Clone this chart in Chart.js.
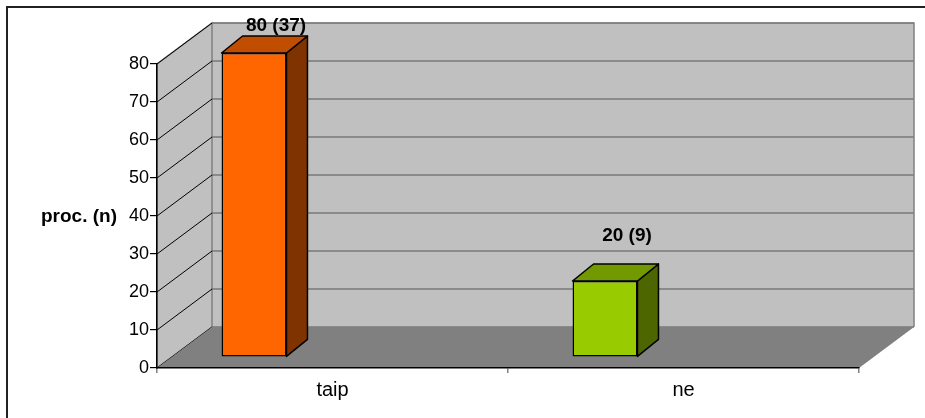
<!DOCTYPE html>
<html>
<head>
<meta charset="utf-8">
<title>proc. (n)</title>
<script src="https://cdn.jsdelivr.net/npm/chart.js@4.4.1/dist/chart.umd.min.js"></script>
<style>
    html, body { margin: 0; padding: 0; background: #fff; }
    #wrap { position: relative; width: 925px; height: 418px; }
</style>
</head>
<body>
<div id="wrap"><canvas id="myChart" width="925" height="418"></canvas></div>
<script>
const categories = ['taip', 'ne'];
const percents = [80, 20];
const counts = [37, 9];
const yTicks = [0, 10, 20, 30, 40, 50, 60, 70, 80];
const yTitle = 'proc. (n)';

// colours of the boxes: front, top and side faces
const frontColors = ['#ff6600', '#99cc00'];
const topColors = ['#c04d00', '#739900'];
const sideColors = ['#7f3300', '#4d6600'];

const FONT = "'Liberation Sans', Arial, sans-serif";

// depth of the walls / floor and of each box
const WALL_DX = 55, WALL_DY = -41;
const BOX_DX = 21, BOX_DY = -17;
// where the box front faces sit inside the floor
const BOX_SHIFT_X = -78.5, BOX_SHIFT_Y = -11;

const box3d = {
    id: 'box3d',
    beforeDraw(chart) {
        const ctx = chart.ctx;
        const a = chart.chartArea;
        const ys = chart.scales.y;
        ctx.save();
        ctx.fillStyle = '#fff';
        ctx.fillRect(0, 0, chart.width, chart.height);

        // frame
        ctx.fillStyle = '#222';
        ctx.fillRect(6, 6, chart.width, 2);
        ctx.fillRect(6, 6, 2, chart.height);

        // back wall
        ctx.fillStyle = '#c0c0c0';
        ctx.fillRect(a.left + WALL_DX, a.top + WALL_DY, a.right - a.left, a.bottom - a.top);
        // left wall
        ctx.beginPath();
        ctx.moveTo(a.left, a.bottom);
        ctx.lineTo(a.left, a.top);
        ctx.lineTo(a.left + WALL_DX, a.top + WALL_DY);
        ctx.lineTo(a.left + WALL_DX, a.bottom + WALL_DY);
        ctx.closePath();
        ctx.fill();
        ctx.strokeStyle = '#808080';
        ctx.lineWidth = 1.5;
        ctx.stroke();

        // grid on the back wall and on the left wall
        yTicks.forEach(v => {
            const py = ys.getPixelForValue(v);
            ctx.strokeStyle = '#555';
            ctx.lineWidth = 1.2;
            ctx.beginPath();
            ctx.moveTo(a.left + WALL_DX, py + WALL_DY);
            ctx.lineTo(a.right + WALL_DX, py + WALL_DY);
            ctx.stroke();
            ctx.strokeStyle = '#000';
            ctx.lineWidth = 1;
            ctx.beginPath();
            ctx.moveTo(a.left, py);
            ctx.lineTo(a.left + WALL_DX, py + WALL_DY);
            ctx.stroke();
        });
        ctx.strokeStyle = '#808080';
        ctx.lineWidth = 1.5;
        ctx.beginPath();
        ctx.moveTo(a.left + WALL_DX, a.top + WALL_DY);
        ctx.lineTo(a.right + WALL_DX, a.top + WALL_DY);
        ctx.lineTo(a.right + WALL_DX, a.bottom + WALL_DY);
        ctx.stroke();

        // floor
        ctx.fillStyle = '#808080';
        ctx.beginPath();
        ctx.moveTo(a.left, a.bottom);
        ctx.lineTo(a.right, a.bottom);
        ctx.lineTo(a.right + WALL_DX, a.bottom + WALL_DY);
        ctx.lineTo(a.left + WALL_DX, a.bottom + WALL_DY);
        ctx.closePath();
        ctx.fill();

        // horizontal axis title
        ctx.fillStyle = '#000';
        ctx.font = 'bold 19px ' + FONT;
        ctx.textAlign = 'right';
        ctx.textBaseline = 'middle';
        ctx.fillText(yTitle, 117, ys.getPixelForValue(40) + 1);
        ctx.restore();
    },
    beforeDatasetsDraw(chart) {
        chart.ctx.save();
        chart.ctx.translate(BOX_SHIFT_X, BOX_SHIFT_Y);
    },
    afterDatasetsDraw(chart) {
        const ctx = chart.ctx;
        const meta = chart.getDatasetMeta(0);
        meta.data.forEach((bar, i) => {
            const p = bar.getProps(['x', 'y', 'base', 'width'], true);
            const l = p.x - p.width / 2, r = p.x + p.width / 2;
            ctx.lineWidth = 1.5;
            ctx.strokeStyle = '#000';
            ctx.lineJoin = 'round';
            // side face
            ctx.fillStyle = sideColors[i];
            ctx.beginPath();
            ctx.moveTo(r, p.y);
            ctx.lineTo(r + BOX_DX, p.y + BOX_DY);
            ctx.lineTo(r + BOX_DX, p.base + BOX_DY);
            ctx.lineTo(r, p.base);
            ctx.closePath();
            ctx.fill();
            ctx.stroke();
            // top face
            ctx.fillStyle = topColors[i];
            ctx.beginPath();
            ctx.moveTo(l, p.y);
            ctx.lineTo(l + BOX_DX, p.y + BOX_DY);
            ctx.lineTo(r + BOX_DX, p.y + BOX_DY);
            ctx.lineTo(r, p.y);
            ctx.closePath();
            ctx.fill();
            ctx.stroke();
        });
        ctx.restore();
    },
    afterDraw(chart) {
        const ctx = chart.ctx;
        const a = chart.chartArea;
        const meta = chart.getDatasetMeta(0);
        ctx.save();
        ctx.fillStyle = '#000';
        ctx.font = 'bold 19px ' + FONT;
        ctx.textAlign = 'center';
        ctx.textBaseline = 'middle';
        meta.data.forEach((bar, i) => {
            const x = bar.x + BOX_SHIFT_X + 22;
            const y = Math.max(bar.y + BOX_SHIFT_Y - 45, a.top + WALL_DY + 3);
            ctx.fillText(`${percents[i]} (${counts[i]})`, x, y);
        });
        ctx.restore();
    }
};

const ctx = document.getElementById('myChart');

new Chart(ctx, {
    type: 'bar',
    data: {
        labels: categories,
        datasets: [{
            data: percents,
            backgroundColor: frontColors,
            borderColor: '#000',
            borderWidth: 1.5,
            borderSkipped: false,
            barPercentage: 0.185,
            categoryPercentage: 1,
            clip: false
        }]
    },
    options: {
        responsive: false,
        animation: false,
        events: [],
        layout: { padding: { left: 0, top: 64, right: 66, bottom: 0 } },
        plugins: {
            legend: { display: false },
            tooltip: { enabled: false },
            title: { display: false }
        },
        scales: {
            x: {
                grid: { offset: true, drawOnChartArea: false, tickLength: 5, color: '#808080', lineWidth: 1.5 },
                border: { display: true, color: '#000', width: 1.5 },
                ticks: { color: '#000', font: { family: FONT, size: 20 }, padding: 5 },
                afterFit: scale => { scale.height = 50; }
            },
            y: {
                min: 0,
                max: 80,
                afterBuildTicks: scale => { scale.ticks = yTicks.map(v => ({ value: v })); },
                grid: { drawOnChartArea: false, tickLength: 7, color: '#000', lineWidth: 1.2 },
                border: { display: true, color: '#000', width: 1.5 },
                ticks: { color: '#000', font: { family: FONT, size: 18 }, padding: 1 },
                afterFit: scale => { scale.width = 157; }
            }
        }
    },
    plugins: [box3d]
});
</script>
</body>
</html>
